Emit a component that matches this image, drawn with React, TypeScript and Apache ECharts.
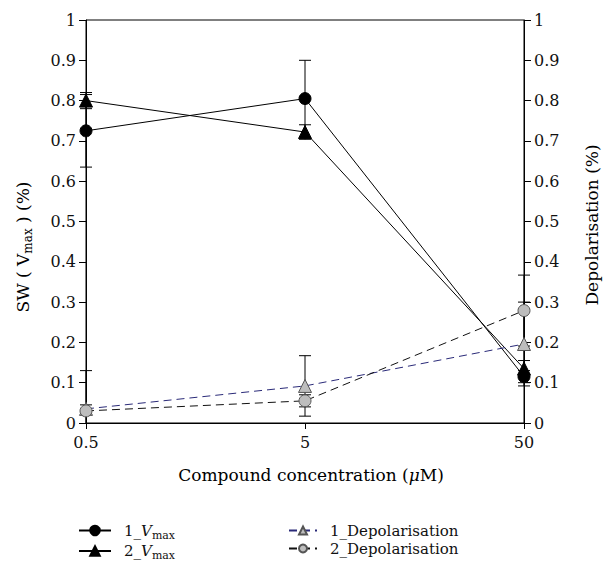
import React, { useEffect, useRef } from "react";
import * as echarts from "echarts";

const categories = ["0.5", "5", "50"];
const yTicks = [0, 0.1, 0.2, 0.3, 0.4, 0.5, 0.6, 0.7, 0.8, 0.9, 1];
const vmax1 = [0.725, 0.805, 0.115];
const vmax1Err = [0.09, 0.095, 0.015];
const vmax2 = [0.8, 0.722, 0.135];
const vmax2Err = [0.02, 0.018, 0.02];
const depol1 = [0.035, 0.092, 0.196];
const depol1Err = [0.01, 0.075, 0.104];
const depol2 = [0.03, 0.055, 0.279];
const depol2Err = [0.1, 0.015, 0.088];

const FONT = "DejaVu Serif";

const legendRich = {
  g: { fontFamily: FONT, fontSize: 15, color: "#111", lineHeight: 20, padding: [0, 0, 0, 8] },
  v: { fontFamily: FONT, fontSize: 15, color: "#111", fontStyle: "italic", lineHeight: 20 },
  s: { fontFamily: FONT, fontSize: 11, color: "#111", lineHeight: 13, verticalAlign: "bottom" },
};

const nameRich = {
  r: { fontFamily: FONT, fontSize: 17, color: "#111", fontWeight: "normal", lineHeight: 22 },
  v: { fontFamily: FONT, fontSize: 17, color: "#111", fontStyle: "italic", lineHeight: 22 },
  s: { fontFamily: FONT, fontSize: 12, color: "#111", lineHeight: 14, verticalAlign: "bottom" },
};

function errData(vals: number[], errs: number[]) {
  return vals.map((v, i) => [i, v - errs[i], v + errs[i]]);
}

export default function App() {
  const ref = useRef<HTMLDivElement>(null);
  useEffect(() => {
    if (!ref.current) return;
    const chart = echarts.init(ref.current, null, { renderer: "svg" });
    const errorSeries = (name: string, vals: number[], errs: number[], yIdx: number) => ({
      type: "custom",
      name: name + "_err",
      yAxisIndex: yIdx,
      z: 1,
      silent: true,
      data: errData(vals, errs),
      renderItem: (params: any, api: any) => {
        const x = api.value(0);
        const loVal = api.value(1);
        const clipped = loVal < 0;
        const lo = api.coord([x, Math.max(0, loVal)]);
        const hi = api.coord([x, api.value(2)]);
        const w = 6;
        const style = { stroke: "#000", lineWidth: 1 };
        const children: any[] = [
          { type: "line", shape: { x1: lo[0], y1: lo[1], x2: hi[0], y2: hi[1] }, style },
          { type: "line", shape: { x1: hi[0] - w, y1: hi[1], x2: hi[0] + w, y2: hi[1] }, style },
        ];
        if (!clipped) {
          children.push({ type: "line", shape: { x1: lo[0] - w, y1: lo[1], x2: lo[0] + w, y2: lo[1] }, style });
        }
        return { type: "group", children };
      },
    });
    const yAxisBase = {
      type: "value",
      min: 0,
      max: 1,
      interval: 0.1,
      splitLine: { show: false },
      axisLine: { show: true, lineStyle: { color: "#000", width: 1 } },
      axisTick: { show: true, length: 7, lineStyle: { color: "#000" } },
      axisLabel: {
        fontFamily: FONT,
        fontSize: 16,
        color: "#111",
        margin: 10,
        formatter: (v: number) => {
          const t = yTicks.find((k) => Math.abs(k - v) < 1e-6);
          return t === undefined ? "" : String(t);
        },
      },
    };
    const legendFormatter = (name: string) => {
      if (name === "1_Vmax") return "{g|1_}{v|V}{s|max}";
      if (name === "2_Vmax") return "{g|2_}{v|V}{s|max}";
      return "{g|" + name + "}";
    };
    chart.setOption({
      animation: false,
      backgroundColor: "#fff",
      textStyle: { fontFamily: FONT },
      grid: {
        left: 86,
        right: 79,
        top: 20,
        bottom: 154,
        show: true,
        borderColor: "#000",
        borderWidth: 1,
        backgroundColor: "transparent",
      },
      xAxis: {
        type: "category",
        data: categories,
        boundaryGap: false,
        axisLine: { show: true, lineStyle: { color: "#000" } },
        axisTick: { show: true, length: 6, alignWithLabel: true, lineStyle: { color: "#000" } },
        axisLabel: { fontFamily: FONT, fontSize: 16, color: "#111", margin: 11 },
        splitLine: { show: false },
      },
      yAxis: [
        { ...yAxisBase, position: "left" },
        { ...yAxisBase, position: "right" },
      ],
      legend: [
        {
          data: ["1_Vmax", "2_Vmax"],
          orient: "vertical",
          left: 73,
          top: 518,
          itemWidth: 32,
          itemHeight: 12,
          itemGap: 3,
          formatter: legendFormatter,
          textStyle: { fontFamily: FONT, rich: legendRich },
        },
        {
          data: ["1_Depolarisation", "2_Depolarisation"],
          orient: "vertical",
          left: 283,
          top: 518,
          itemWidth: 28,
          itemHeight: 10,
          itemGap: 3,
          formatter: legendFormatter,
          textStyle: { fontFamily: FONT, rich: legendRich },
        },
      ],
      graphic: [
        {
          type: "text",
          x: 23,
          y: 247,
          rotation: Math.PI / 2,
          style: {
            text: "{r|SW ( V}{s|max}{r| ) (%)}",
            align: "center",
            verticalAlign: "middle",
            fontFamily: FONT,
            rich: nameRich,
          },
        },
        {
          type: "text",
          x: 592,
          y: 225,
          rotation: Math.PI / 2,
          style: {
            text: "{r|Depolarisation (%)}",
            align: "center",
            verticalAlign: "middle",
            fontFamily: FONT,
            rich: nameRich,
          },
        },
        {
          type: "text",
          x: 311,
          y: 475,
          style: {
            text: "{r|Compound concentration (}{v|μ}{r|M)}",
            align: "center",
            verticalAlign: "middle",
            fontFamily: FONT,
            rich: nameRich,
          },
        },
      ],
      series: [
        errorSeries("1_Vmax", vmax1, vmax1Err, 0),
        errorSeries("2_Vmax", vmax2, vmax2Err, 0),
        errorSeries("1_Depolarisation", depol1, depol1Err, 1),
        errorSeries("2_Depolarisation", depol2, depol2Err, 1),
        {
          type: "line",
          name: "1_Vmax",
          data: vmax1,
          yAxisIndex: 0,
          symbol: "circle",
          symbolSize: 12,
          z: 3,
          lineStyle: { color: "#000", width: 1 },
          itemStyle: { color: "#000", borderColor: "#000", borderWidth: 1 },
        },
        {
          type: "line",
          name: "2_Vmax",
          data: vmax2,
          yAxisIndex: 0,
          symbol: "triangle",
          symbolSize: 13,
          z: 3,
          lineStyle: { color: "#000", width: 1 },
          itemStyle: { color: "#000", borderColor: "#000", borderWidth: 1 },
        },
        {
          type: "line",
          name: "1_Depolarisation",
          data: depol1,
          yAxisIndex: 1,
          symbol: "triangle",
          symbolSize: 13,
          z: 3,
          lineStyle: { color: "#2a2a78", width: 1, type: [8, 5] },
          itemStyle: { color: "#bdbdbd", borderColor: "#555", borderWidth: 1 },
        },
        {
          type: "line",
          name: "2_Depolarisation",
          data: depol2,
          yAxisIndex: 1,
          symbol: "circle",
          symbolSize: 12,
          z: 3,
          lineStyle: { color: "#111", width: 1, type: [8, 5] },
          itemStyle: { color: "#bdbdbd", borderColor: "#555", borderWidth: 1 },
        },
      ],
    });
    return () => chart.dispose();
  }, []);
  return <div ref={ref} style={{ width: 603, height: 577, position: "absolute", left: 0, top: 0 }} />;
}
